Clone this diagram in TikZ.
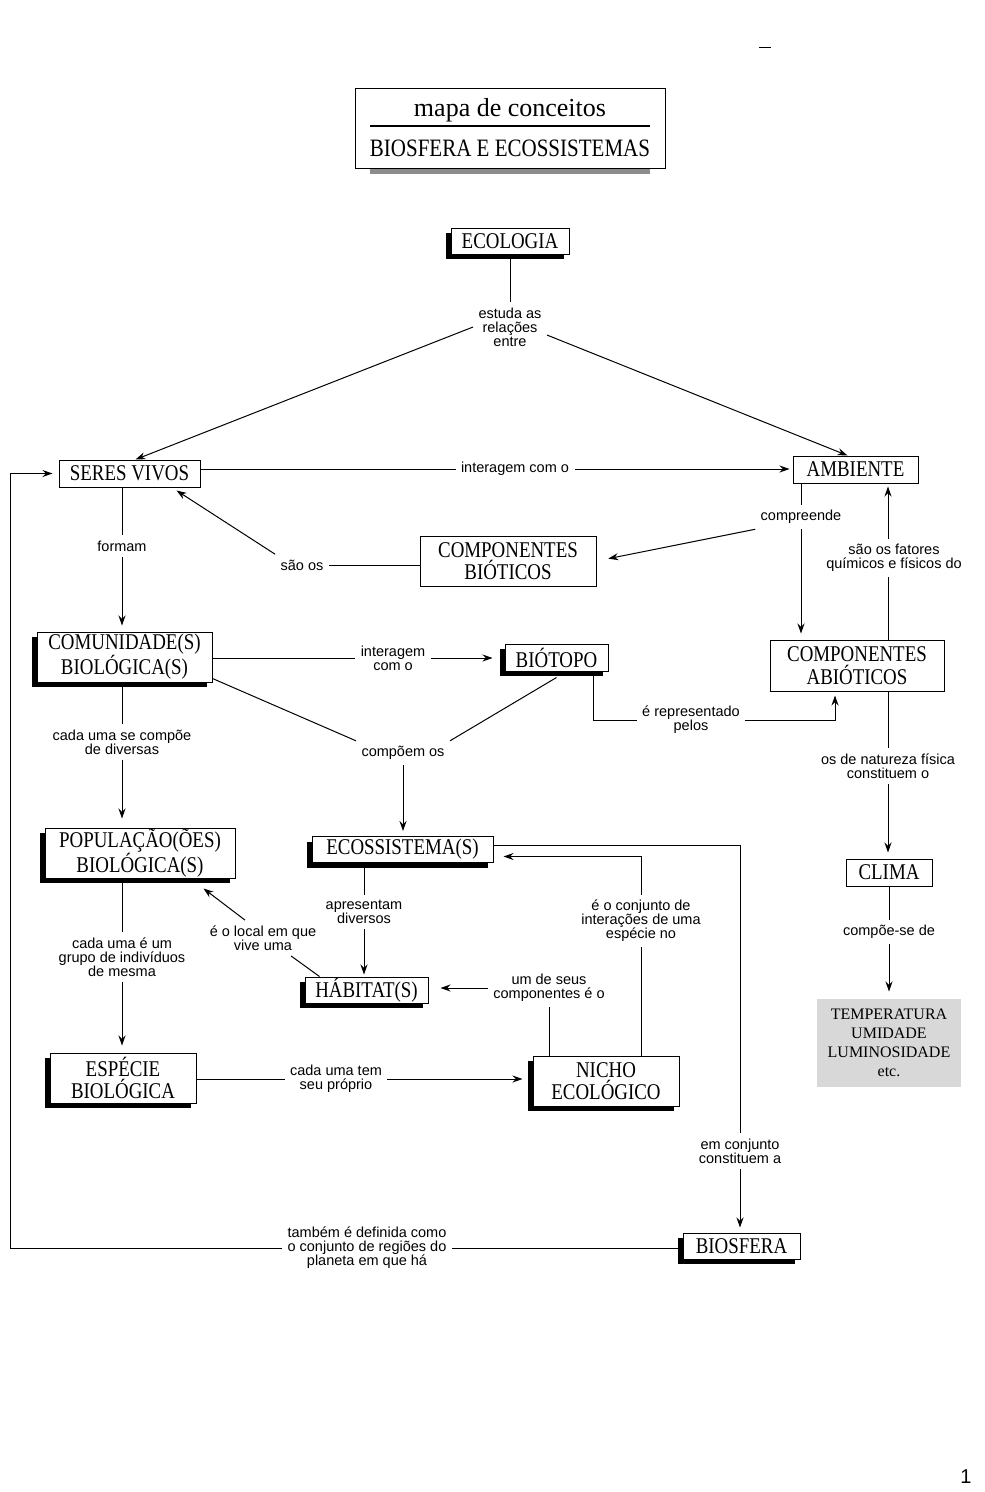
\documentclass[tikz,border=0pt]{standalone}
\usepackage{fontspec}
\setmainfont{Liberation Serif}
\newfontfamily\boxfont[FakeStretch=0.84]{Liberation Serif}
\newfontfamily\lblfont{Liberation Sans}
\usetikzlibrary{arrows.meta, calc}
\usetikzlibrary{shadows}
\definecolor{mygray}{RGB}{216, 216, 216}
\definecolor{myshade}{RGB}{140, 140, 140}
\tikzstyle{shadowbox} = [draw=black, fill=white, line width=1, inner sep=0,
    align=center, font=\boxfont\fontsize{22.5}{22.5}\selectfont,
    drop shadow={shadow xshift=-5pt, shadow yshift=-5pt, fill=black, opacity=1}]
\tikzstyle{plainbox} = [draw=black, fill=white, line width=1, inner sep=0,
    align=center, font=\boxfont\fontsize{22.5}{22.5}\selectfont]
\tikzstyle{lbl} = [align=center, inner sep=5,
    font=\lblfont\fontsize{14.5}{14}\selectfont]
\tikzstyle{arr} = [-{Stealth[length=10pt, width=7pt]}]

\begin{document}
\begin{tikzpicture}[x=1pt, y=-1pt, line width=1]
\fill[white] (0,0) rectangle (985,1492);
\useasboundingbox (0,0) rectangle (985,1492);

    % 1. Title
    \fill[myshade] (370,165) rectangle (650,174);
    \node[draw=black, fill=white, line width=1, minimum width=310, minimum height=80] (titlebox) at (510,128) {};
    \node[font=\fontsize{26}{26}\selectfont] (maptitle) at (510,110) {mapa de conceitos};
    \node[font=\boxfont\fontsize{25}{25}\selectfont] (subtitle) at (510,148) {BIOSFERA E ECOSSISTEMAS};
    \draw[line width=1.6] (370,126) -- (650,126);
    \draw[line width=0.6] (759,47) -- (771,47);

    % 2. Concept boxes, (x, y) = centre in the page
    \node[shadowbox, minimum width=118, minimum height=26] (ecologia) at (510,241) {ECOLOGIA};
    \node[plainbox, minimum width=141, minimum height=27] (seres) at (129.5,473.5) {SERES VIVOS};
    \node[plainbox, minimum width=125, minimum height=27] (ambiente) at (855.5,469.5) {AMBIENTE};
    \node[plainbox, minimum width=176, minimum height=50] (bioticos) at (508,561) {COMPONENTES\\BIÓTICOS};
    \node[plainbox, minimum width=174, minimum height=51] (abioticos) at (857,665.5) {COMPONENTES\\ABIÓTICOS};
    \node[plainbox, minimum width=86, minimum height=27] (clima) at (889,872.5) {CLIMA};
    \node[fill=mygray, minimum width=144, minimum height=88, align=center,
        font=\fontsize{16}{19}\selectfont] (tempbox) at (889,1043) {TEMPERATURA\\UMIDADE\\LUMINOSIDADE\\etc.};
    \node[shadowbox, minimum width=175, minimum height=50] (comunidade) at (124.5,657) {COMUNIDADE(S)\\BIOLÓGICA(S)};
    \node[shadowbox, minimum width=103, minimum height=27] (biotopo) at (556.5,657.5) {BIÓTOPO};
    \node[shadowbox, minimum width=190, minimum height=50] (populacao) at (140,853) {POPULAÇÃO(ÕES)\\BIOLÓGICA(S)};
    \node[shadowbox, minimum width=181, minimum height=26] (ecossistema) at (402.5,849.5) {ECOSSISTEMA(S)};
    \node[shadowbox, minimum width=123, minimum height=26] (habitat) at (366.5,990) {HÁBITAT(S)};
    \node[shadowbox, minimum width=146, minimum height=50] (especie) at (123,1078) {ESPÉCIE\\BIOLÓGICA};
    \node[shadowbox, minimum width=146, minimum height=50] (nicho) at (606,1081) {NICHO\\ECOLÓGICO};
    \node[shadowbox, minimum width=117, minimum height=26] (biosfera) at (741.5,1246) {BIOSFERA};

    % 3. Link texts
    \node[lbl] (estuda) at (510,327) {estuda as\\relações\\entre};
    \node[lbl] (interage1) at (515,469) {interagem com o};
    \node[lbl] (formam) at (122,546) {formam};
    \node[lbl] (saoos) at (302,565) {são os};
    \node[lbl] (compreende) at (801,517) {compreende};
    \node[lbl] (fatores) at (894,558) {são os fatores\\químicos e físicos do};
    \node[lbl] (natureza) at (888,766) {os de natureza física\\constituem o};
    \node[lbl] (compoese) at (889,932) {compõe-se de};
    \node[lbl] (interage2) at (393,658) {interagem\\com o};
    \node[lbl] (representado) at (691,720) {é representado\\pelos};
    \node[lbl] (cadauma1) at (122,742) {cada uma se compõe\\de diversas};
    \node[lbl] (compoem) at (403,753) {compõem os};
    \node[lbl] (cadauma2) at (122,957) {cada uma é um\\grupo de indivíduos\\de mesma};
    \node[lbl] (apresentam) at (364,912) {apresentam\\diversos};
    \node[lbl] (local) at (263,938) {é o local em que\\vive uma};
    \node[lbl] (umdeseus) at (549,988) {um de seus\\componentes é o};
    \node[lbl] (conjunto) at (641,921) {é o conjunto de\\interações de uma\\espécie no};
    \node[lbl] (cadatem) at (336,1079) {cada uma tem\\seu próprio};
    \node[lbl] (emconjunto) at (740,1151) {em conjunto\\constituem a};
    \node[lbl] (tambem) at (367,1248) {também é definida como\\o conjunto de regiões do\\planeta em que há};
    \node[font=\lblfont\fontsize{20}{20}\selectfont] (pagenum) at (966,1477) {1};

    % 4. Connections
    \coordinate (loopx) at (10,0);
    \coordinate (bend1) at (593,720);
    \coordinate (bend2) at (835,720);
    \coordinate (corner) at (740,845);

    \draw (ecologia.south) -- (estuda.north);
    \draw[arr] (estuda.west) -- ([xshift=6pt]seres.north);
    \draw[arr] ($(estuda.east)+(0,8)$) -- ([xshift=-8pt]ambiente.north);

    \draw (interage1.west -| seres.east) -- (interage1.west);
    \draw[arr, shorten >=3pt] (interage1.east) -- (interage1.east -| ambiente.west);

    \draw (formam.north |- seres.south) -- (formam.north);
    \draw[arr, shorten >=6pt] (formam.south) -- (formam.south |- comunidade.north);

    \draw (saoos.east -| bioticos.west) -- (saoos.east);
    \draw[arr] (saoos.north west) -- ($(seres.south east)+(-24,3)$);

    \draw (compreende.north |- ambiente.south) -- (compreende.north);
    \draw[arr, shorten >=6pt] (compreende.south) -- (compreende.south |- abioticos.north);
    \draw[arr, shorten >=12pt] (compreende.south west) -- (bioticos.east);

    \draw (abioticos.north -| natureza) -- (fatores.south -| natureza);
    \draw[arr, shorten >=3pt] (fatores.north -| natureza) -- (ambiente.south -| natureza);
    \draw (abioticos.south -| natureza) -- (natureza.north);
    \draw[arr, shorten >=6pt] (natureza.south) -- (clima.north -| natureza);
    \draw (clima.south) -- (compoese.north);
    \draw[arr, shorten >=7pt] (compoese.south) -- (compoese.south |- tempbox.north);

    \draw (interage2.west -| comunidade.east) -- (interage2.west);
    \draw[arr, shorten >=12pt] (interage2.east) -- (interage2.east -| biotopo.west);

    \draw (bend1 |- biotopo.south) -- (bend1) -- (representado.west);
    \draw[arr, shorten >=4pt] (representado.east) -- (bend2) -- (bend2 |- abioticos.south);

    \draw (comunidade.south -| cadauma1) -- (cadauma1.north);
    \draw[arr, shorten >=9pt] (cadauma1.south) -- (cadauma1.south |- populacao.north);

    \draw ($(comunidade.south east)+(0,-4)$) -- (compoem.north west);
    \draw ($(biotopo.south)+(0,6)$) -- (compoem.north east);
    \draw[arr, shorten >=5pt] (compoem.south) -- (compoem.south |- ecossistema.north);

    \draw (populacao.south -| cadauma2) -- (cadauma2.north);
    \draw[arr, shorten >=7pt] (cadauma2.south) -- (cadauma2.south |- especie.north);

    \draw (ecossistema.south -| apresentam) -- (apresentam.north);
    \draw[arr, shorten >=2pt] (apresentam.south) -- (apresentam.south |- habitat.north);

    \draw ($(habitat.north west)+(15,0)$) -- ([xshift=28pt]local.south);
    \draw[arr] ([xshift=-18pt]local.north) -- ($(populacao.south east)+(-32,10)$);

    \draw (nicho.north -| umdeseus) -- (umdeseus.south);
    \draw[arr, shorten >=12pt] (umdeseus.west) -- (umdeseus.west -| habitat.east);

    \draw (nicho.north -| conjunto) -- (conjunto.south);
    \draw[arr] (conjunto.north) |- ([yshift=-7pt, xshift=10pt]ecossistema.east);

    \draw (cadatem.west -| especie.east) -- (cadatem.west);
    \draw[arr, shorten >=10pt] (cadatem.east) -- (cadatem.east -| nicho.west);

    \draw (corner -| ecossistema.east) -- (corner) -- (emconjunto.north);
    \draw[arr, shorten >=5pt] (emconjunto.south) -- (emconjunto.south |- biosfera.north);

    \draw (tambem.east -| biosfera.west) -- (tambem.east);
    \draw[arr, shorten >=6pt] (tambem.west) -- (tambem.west -| loopx) |- (seres.west);

\end{tikzpicture}
\end{document}
